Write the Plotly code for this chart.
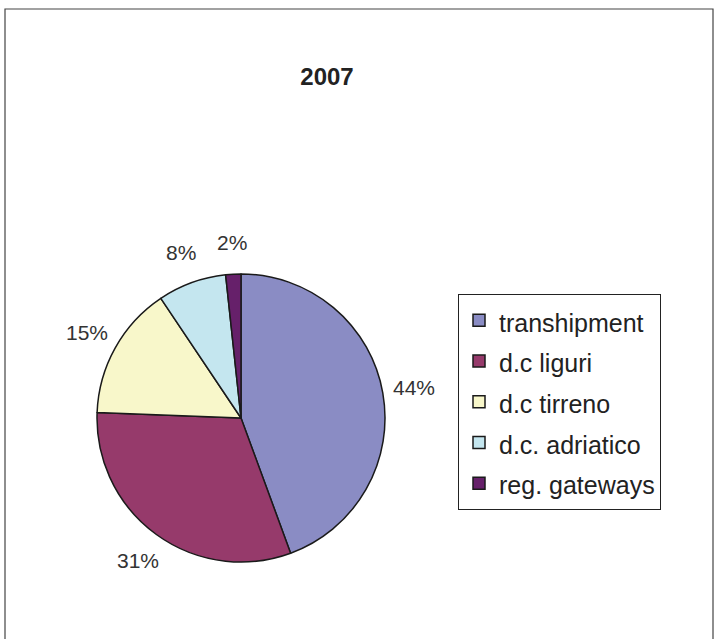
import math
import plotly.graph_objects as go

categories = ["transhipment", "d.c liguri", "d.c tirreno", "d.c. adriatico", "reg. gateways"]
shares = [44.4, 31.2, 15.0, 7.7, 1.7]
slice_colors = ["#8A8CC4", "#963A6B", "#F8F7CA", "#C4E6EF", "#66206A"]
title_text = "2007"

W, H = 716, 639
FONT = "Liberation Sans, Arial, sans-serif"

# pie geometry (pixels from top-left of the figure)
cx, cy, r = 241, 418, 144
label_dist = 176  # distance of percentage labels from the pie centre

# legend labels: text at 25px, a larger legend font gives the taller rows
legend_labels = [f"<span style='font-size:25px'>{c}</span>" for c in categories]

fig = go.Figure(go.Pie(
    labels=legend_labels,
    values=shares,
    sort=False,
    direction="clockwise",
    rotation=0,
    marker=dict(colors=slice_colors, line=dict(color="#1a1a1a", width=1.5)),
    textinfo="none",
    hovertemplate="%{value}<extra></extra>",
    domain=dict(x=[(cx - r) / W, (cx + r) / W], y=[(H - cy - r) / H, (H - cy + r) / H]),
    showlegend=True,
))

# percentage labels placed outside each slice, at the slice's middle angle
total = sum(shares)
annotations = []
cum = 0.0
for v in shares:
    mid = (cum + v / 2) / total * 2 * math.pi
    cum += v
    px = cx + label_dist * math.sin(mid)
    py = cy - label_dist * math.cos(mid)
    annotations.append(dict(
        x=px / W, y=(H - py) / H, xref="paper", yref="paper",
        text=f"{round(v / total * 100)}%", showarrow=False,
        xanchor="center", yanchor="middle",
        font=dict(family=FONT, size=21, color="#333333"),
    ))

fig.update_layout(
    width=W, height=H,
    margin=dict(l=0, r=0, t=0, b=0),
    paper_bgcolor="white",
    plot_bgcolor="white",
    font=dict(family=FONT, color="#222222"),
    title=dict(text=f"<b>{title_text}</b>", x=327 / W, xanchor="center",
               y=1 - 77 / H, yanchor="middle",
               font=dict(family=FONT, size=24, color="#222222")),
    legend=dict(
        x=458 / W, xanchor="left",
        y=1 - 294 / H, yanchor="top",
        bordercolor="#222222", borderwidth=1,
        bgcolor="white",
        font=dict(family=FONT, size=29, color="#222222"),
        traceorder="normal",
    ),
    annotations=annotations,
    shapes=[dict(type="rect", xref="paper", yref="paper",
                 x0=5 / W, x1=713 / W, y0=-0.05, y1=1 - 9 / H,
                 line=dict(color="#444444", width=1.2), fillcolor="rgba(0,0,0,0)")],
)

fig.write_html("out.html", post_script="document.body.style.margin='0';",
               config={"displayModeBar": False})
